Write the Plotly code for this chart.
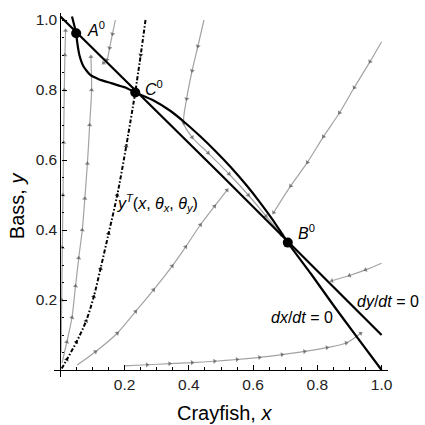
import numpy as np
import plotly.graph_objects as go

# ---- data ----
dxdt_x = [0.036, 0.049, 0.052, 0.059, 0.072, 0.093, 0.119, 0.16, 0.202, 0.233, 0.29, 0.343,
          0.39, 0.436, 0.48, 0.53, 0.58, 0.623, 0.665, 0.708, 0.78, 0.85, 0.92, 1.0]
dxdt_y = [1.01, 0.962, 0.938, 0.9, 0.867, 0.843, 0.831, 0.819, 0.807, 0.793, 0.77, 0.74,
          0.705, 0.667, 0.628, 0.58, 0.527, 0.477, 0.424, 0.364, 0.275, 0.185, 0.098, 0.0]

dydt_x = [0.0, 0.5, 1.0]
dydt_y = [1.01, 0.558, 0.1]

# separatrix y^T : lower branch (origin -> C0) and upper branch (top -> C0)
sepL_x = [0.004, 0.02, 0.05, 0.08, 0.104, 0.125, 0.15, 0.177, 0.205, 0.233]
sepL_y = [0.004, 0.03, 0.08, 0.14, 0.21, 0.29, 0.39, 0.5, 0.64, 0.793]
sepU_x = [0.265, 0.25, 0.233]
sepU_y = [1.0, 0.9, 0.793]

# trajectories
tr_a_x = [0.002, 0.004, 0.006, 0.008, 0.01, 0.012, 0.014, 0.016]
tr_a_y = [0.05, 0.2, 0.35, 0.5, 0.65, 0.8, 0.9, 0.97]

tr_b_x = [0.005, 0.02, 0.036, 0.047, 0.057, 0.068, 0.076, 0.084, 0.091, 0.097, 0.095]
tr_b_y = [0.02, 0.08, 0.15, 0.24, 0.32, 0.40, 0.49, 0.59, 0.7, 0.8, 0.895]

tr_d_x = [0.171, 0.162, 0.153, 0.145, 0.134]
tr_d_y = [1.0, 0.96, 0.92, 0.886, 0.877]

tr_e_x = [0.447, 0.428, 0.41, 0.393, 0.384, 0.41, 0.46, 0.525, 0.585, 0.64, 0.69]
tr_e_y = [1.0, 0.925, 0.855, 0.775, 0.705, 0.665, 0.62, 0.56, 0.5, 0.44, 0.385]

tr_f_x = [1.0, 0.964, 0.915, 0.869, 0.819, 0.769, 0.717, 0.664]
tr_f_y = [0.938, 0.881, 0.807, 0.735, 0.667, 0.593, 0.526, 0.45]

tr_g_x = [1.0, 0.95, 0.9, 0.845]
tr_g_y = [0.305, 0.286, 0.27, 0.255]

tr_h_x = [0.052, 0.109, 0.177, 0.234, 0.29, 0.348, 0.39, 0.436, 0.48, 0.519]
tr_h_y = [0.014, 0.052, 0.105, 0.167, 0.229, 0.297, 0.352, 0.415, 0.468, 0.514]

tr_i_x = [0.2, 0.27, 0.34, 0.41, 0.48, 0.55, 0.62, 0.69, 0.76, 0.83, 0.89, 0.935]
tr_i_y = [0.012, 0.015, 0.018, 0.021, 0.025, 0.03, 0.036, 0.044, 0.053, 0.064, 0.077, 0.105]

eq_names = ["<i>A</i><sup>0</sup>", "<i>C</i><sup>0</sup>", "<i>B</i><sup>0</sup>"]
eq_x = [0.049, 0.233, 0.708]
eq_y = [0.962, 0.793, 0.364]
eq_lab_x = [0.112, 0.29, 0.765]
eq_lab_y = [0.975, 0.805, 0.395]

tick_vals = [0.2, 0.4, 0.6, 0.8, 1.0]
tick_text = ["0.2", "0.4", "0.6", "0.8", "1.0"]

FONT = "Arial, 'Liberation Sans', sans-serif"
GRAY = "#a3a3a3"

fig = go.Figure()

def traj(x, y, color=GRAY, width=1.2, dash="solid", mcolor="#555555", msize=4.5):
    sizes = [0] + [msize] * (len(x) - 1)
    fig.add_trace(go.Scatter(
        x=x, y=y, mode="lines+markers",
        line=dict(color=color, width=width, dash=dash, shape="spline", smoothing=0.8),
        marker=dict(symbol="triangle-up", size=sizes, color=mcolor, angleref="previous",
                    line=dict(width=0)),
        hoverinfo="skip", showlegend=False, cliponaxis=False))

for tx, ty in [(tr_a_x, tr_a_y), (tr_b_x, tr_b_y), (tr_d_x, tr_d_y), (tr_e_x, tr_e_y),
               (tr_f_x, tr_f_y), (tr_g_x, tr_g_y), (tr_h_x, tr_h_y), (tr_i_x, tr_i_y)]:
    traj(tx, ty)

traj(sepL_x, sepL_y, color="black", width=2, dash="4px,2px,1.5px,2px", mcolor="black", msize=4.5)
traj(sepU_x, sepU_y, color="black", width=2, dash="4px,2px,1.5px,2px", mcolor="black", msize=4.5)

fig.add_trace(go.Scatter(x=dxdt_x, y=dxdt_y, mode="lines",
                         line=dict(color="black", width=2.2, shape="spline", smoothing=0.5),
                         hoverinfo="skip", showlegend=False))
fig.add_trace(go.Scatter(x=dydt_x, y=dydt_y, mode="lines",
                         line=dict(color="black", width=2.2, shape="spline", smoothing=0.5),
                         hoverinfo="skip", showlegend=False))
fig.add_trace(go.Scatter(x=eq_x, y=eq_y, mode="markers",
                         marker=dict(color="black", size=10),
                         hoverinfo="skip", showlegend=False))

ann = []
for name, lx, ly in zip(eq_names, eq_lab_x, eq_lab_y):
    ann.append(dict(x=lx, y=ly, xref="x", yref="y", text=name, showarrow=False,
                    xanchor="center", yanchor="middle",
                    font=dict(size=16, color="black", family=FONT)))
ann.append(dict(x=0.302, y=0.477, xref="x", yref="y", xanchor="center", yanchor="middle",
                text="<i>y</i><sup><i>T</i></sup>(<i>x</i>, <i>θ</i><sub><i>x</i></sub>, <i>θ</i><sub><i>y</i></sub>)",
                showarrow=False, font=dict(size=16, color="black", family=FONT)))
ann.append(dict(x=1.10, y=0.197, xref="paper", yref="y", xanchor="right", yanchor="middle",
                text="<i>dy</i>/<i>dt</i> = 0",
                showarrow=False, font=dict(size=16, color="black", family=FONT)))
ann.append(dict(x=0.752, y=0.151, xref="x", yref="y", xanchor="center", yanchor="middle",
                text="<i>dx</i>/<i>dt</i> = 0",
                showarrow=False, font=dict(size=16, color="black", family=FONT)))
ann.append(dict(x=0.51, y=-0.1, xref="paper", yref="paper", xanchor="center", yanchor="middle",
                text="Crayfish, <i>x</i>",
                showarrow=False, font=dict(size=20, color="black", family=FONT)))
ann.append(dict(x=-0.11, y=0.47, xref="paper", yref="paper", xanchor="center", yanchor="middle",
                text="Bass, <i>y</i>",
                textangle=-90, showarrow=False, font=dict(size=20, color="black", family=FONT)))

pos = 0.02 / 1.04
minor_vals = [round(v, 2) for v in np.arange(0.05, 1.0001, 0.05)]

axis_common = dict(
    showgrid=False, zeroline=False, showline=True, linecolor="black", linewidth=1.2,
    ticks="inside", ticklen=5, tickwidth=1, tickcolor="black",
    tickmode="array", tickvals=tick_vals, ticktext=tick_text,
    tickfont=dict(size=15.5, color="#222222", family=FONT),
    minor=dict(ticks="inside", ticklen=2.5, tickwidth=1, tickcolor="black",
               tickmode="array", tickvals=minor_vals),
    anchor="free", position=pos, automargin=False, ticklabelstandoff=0,
)

fig.update_layout(
    width=425, height=425,
    margin=dict(l=54, r=37, t=13, b=48, autoexpand=False),
    paper_bgcolor="white", plot_bgcolor="white",
    xaxis=dict(range=[-0.02, 1.02], **axis_common),
    yaxis=dict(range=[-0.02, 1.02], **axis_common),
    annotations=ann,
    font=dict(family=FONT),
)

fig.write_html("out.html", config={"displayModeBar": False},
               post_script="document.body.style.margin='0';")
